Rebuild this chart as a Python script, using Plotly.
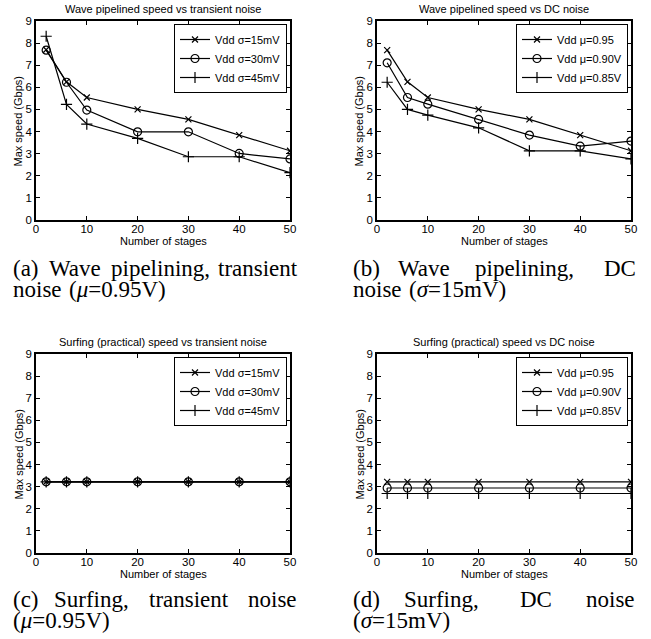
import plotly.graph_objects as go

W, H = 651, 639

stages = [2, 6, 10, 20, 30, 40, 50]
x_ticks = [0, 10, 20, 30, 40, 50]
y_ticks = [0, 1, 2, 3, 4, 5, 6, 7, 8, 9]

# (a) Wave pipelined speed vs transient noise
wp_tr_15 = [7.70, 6.25, 5.54, 5.00, 4.55, 3.84, 3.13]
wp_tr_30 = [7.68, 6.23, 4.97, 3.99, 3.99, 3.01, 2.76]
wp_tr_45 = [8.31, 5.23, 4.34, 3.69, 2.86, 2.86, 2.14]
# (b) Wave pipelined speed vs DC noise
wp_dc_95 = [7.68, 6.25, 5.54, 5.00, 4.55, 3.84, 3.13]
wp_dc_90 = [7.11, 5.54, 5.24, 4.55, 3.84, 3.34, 3.57]
wp_dc_85 = [6.23, 5.00, 4.74, 4.17, 3.13, 3.13, 2.76]
# (c) Surfing (practical) speed vs transient noise
sf_tr_15 = [3.22, 3.22, 3.22, 3.22, 3.22, 3.22, 3.22]
sf_tr_30 = [3.22, 3.22, 3.22, 3.22, 3.22, 3.22, 3.22]
sf_tr_45 = [3.22, 3.22, 3.22, 3.22, 3.22, 3.22, 3.22]
# (d) Surfing (practical) speed vs DC noise
sf_dc_95 = [3.22, 3.22, 3.22, 3.22, 3.22, 3.22, 3.22]
sf_dc_90 = [2.94, 2.94, 2.94, 2.94, 2.94, 2.94, 2.94]
sf_dc_85 = [2.69, 2.69, 2.69, 2.69, 2.69, 2.69, 2.69]

trans_names = ["Vdd σ=15mV", "Vdd σ=30mV", "Vdd σ=45mV"]
dc_names = ["Vdd μ=0.95", "Vdd μ=0.90V", "Vdd μ=0.85V"]

titles = [
    "Wave pipelined speed vs transient noise",
    "Wave pipelined speed vs DC noise",
    "Surfing (practical) speed vs transient noise",
    "Surfing (practical) speed vs DC noise",
]
xlabel = "Number of stages"
ylabel = "Max speed (Gbps)"

# panel pixel boxes: left, right, top, bottom
boxes = [(36, 290, 21, 220), (377, 631, 21, 220), (36, 290, 354, 553), (377, 631, 354, 553)]

def fx(p):
    return p / W

def fy(p):
    return 1 - p / H

SANS = "Liberation Sans, Arial, sans-serif"
SERIF = "Liberation Serif, Times New Roman, serif"

symbols = ["x-thin-open", "circle-open", "cross-thin-open"]
msizes = [6, 8, 8]

panel_series = [
    ([wp_tr_15, wp_tr_30, wp_tr_45], trans_names),
    ([wp_dc_95, wp_dc_90, wp_dc_85], dc_names),
    ([sf_tr_15, sf_tr_30, sf_tr_45], trans_names),
    ([sf_dc_95, sf_dc_90, sf_dc_85], dc_names),
]

fig = go.Figure()
layout = dict(
    width=W, height=H,
    margin=dict(l=0, r=0, t=0, b=0, autoexpand=False),
    paper_bgcolor="white", plot_bgcolor="white",
    font=dict(family=SANS, size=11, color="black"),
    annotations=[],
)

for i, ((series, names), (l, r, t, b)) in enumerate(zip(panel_series, boxes)):
    k = "" if i == 0 else str(i + 1)
    leg = "legend" + k
    for s, name, sym, ms in zip(series, names, symbols, msizes):
        fig.add_trace(go.Scatter(
            x=stages, y=s, name=name, mode="lines+markers",
            line=dict(color="black", width=1.2),
            marker=dict(symbol=sym, size=ms, color="black", line=dict(color="black", width=1.2)),
            xaxis="x" + k, yaxis="y" + k, legend=leg,
        ))
    common = dict(
        showline=True, linecolor="black", linewidth=1.5, mirror="ticks",
        ticks="inside", ticklen=4, tickwidth=1, tickcolor="black",
        showgrid=False, zeroline=False, automargin=False,
        tickfont=dict(family=SANS, size=11.5, color="black"),
    )
    layout["xaxis" + k] = dict(common, domain=[fx(l), fx(r)], range=[0, 50],
                               tickvals=x_ticks, anchor="y" + k, ticklabelstandoff=-3)
    layout["yaxis" + k] = dict(common, domain=[fy(b), fy(t)], range=[0, 9],
                               tickvals=y_ticks, anchor="x" + k)
    layout[leg] = dict(
        x=fx(r - 3), y=fy(t + 3), xanchor="right", yanchor="top",
        bgcolor="white", bordercolor="black", borderwidth=1,
        font=dict(family=SANS, size=11, color="black"),
        itemwidth=30, tracegroupgap=0,
    )
    cx = (l + r) / 2
    layout["annotations"].append(dict(
        text=titles[i], x=fx(cx), y=fy(t - 12), xref="paper", yref="paper",
        showarrow=False, xanchor="center", yanchor="middle",
        font=dict(family=SANS, size=11, color="black")))
    layout["annotations"].append(dict(
        text=xlabel, x=fx(cx), y=fy(b + 21), xref="paper", yref="paper",
        showarrow=False, xanchor="center", yanchor="middle",
        font=dict(family=SANS, size=11, color="black")))
    layout["annotations"].append(dict(
        text=ylabel, x=fx(l - 18), y=fy((t + b) / 2 + 1), xref="paper", yref="paper",
        showarrow=False, xanchor="center", yanchor="middle", textangle=-90,
        font=dict(family=SANS, size=11, color="black")))

# captions: (word, left px, middle px)
captions = [
    ("(a)", 12, 268), ("Wave", 48, 268), ("pipelining,", 110, 268), ("transient", 217, 268),
    ("noise", 12, 289), ("(<i>μ</i>=0.95V)", 68, 289),
    ("(b)", 352, 268), ("Wave", 397, 268), ("pipelining,", 474, 268), ("DC", 603, 268),
    ("noise", 352, 289), ("(<i>σ</i>=15mV)", 408, 289),
    ("(c)", 12, 599), ("Surfing,", 53, 599), ("transient", 148, 599), ("noise", 247, 599),
    ("(<i>μ</i>=0.95V)", 12, 620),
    ("(d)", 352, 599), ("Surfing,", 403, 599), ("DC", 519, 599), ("noise", 585, 599),
    ("(<i>σ</i>=15mV)", 352, 620),
]
for word, px, py in captions:
    layout["annotations"].append(dict(
        text=word, x=fx(px), y=fy(py), xref="paper", yref="paper",
        showarrow=False, xanchor="left", yanchor="middle", borderpad=0,
        font=dict(family=SERIF, size=23, color="black")))

fig.update_layout(**layout)
# remove the page's default 8px body margin so the figure fills the window
fig.write_html("out.html", config={"displayModeBar": False},
               post_script="document.body.style.margin='0px';")
